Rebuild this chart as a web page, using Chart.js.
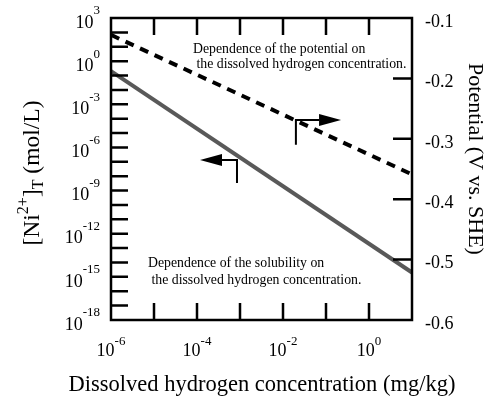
<!DOCTYPE html>
<html>
<head>
<meta charset="utf-8">
<script src="https://cdn.jsdelivr.net/npm/chart.js@4"></script>
<style>
html,body{margin:0;padding:0;background:#fff;}
#wrap{width:498px;height:398px;position:relative;}
</style>
</head>
<body>
<div id="wrap"><canvas id="c" width="498" height="398"></canvas></div>
<script>
// ---- data ----
const hydrogenConc = [1e-6, 1e1];              // mg/kg
const niSolubility = [2e-1, 2e-15];           // mol/L (left axis)
const potential = [-0.128, -0.359];           // V vs. SHE (right axis)
const xTickExps = [-6, -5, -4, -3, -2, -1, 0, 1];
const xLabelExps = [-6, -4, -2, 0];
const yTickExps = [-18,-17,-16,-15,-14,-13,-12,-11,-10,-9,-8,-7,-6,-5,-4,-3,-2,-1,0,1,2,3];
const yLabelExps = [3, 0, -3, -6, -9, -12, -15, -18];
const y2Ticks = [-0.1, -0.2, -0.3, -0.4, -0.5, -0.6];
const textPotential = ["Dependence of the potential on", " the dissolved hydrogen concentration."];
const textSolubility = ["Dependence of the solubility on", " the dissolved hydrogen concentration."];
const xTitle = "Dissolved hydrogen concentration (mg/kg)";
const y2Title = "Potential (V vs. SHE)";
// arrows (data coordinates)
const arrowLeft = {from: [Math.pow(10, -3.07), Math.pow(10, -6.87)], to: [Math.pow(10, -3.93), Math.pow(10, -6.87)], stem: Math.pow(10, -8.47)};
const arrowRight = {from: [Math.pow(10, -1.70), -0.269], to: [Math.pow(10, -0.65), -0.269], stem: -0.310};

const SERIF = '"Liberation Serif", "Times New Roman", serif';

function drawPow(ctx, exp, x, y, align, baseOff, expOff) {
  const base = '10', e = String(exp);
  ctx.font = '18px ' + SERIF;
  const wb = ctx.measureText(base).width;
  ctx.font = '13px ' + SERIF;
  const we = ctx.measureText(e).width;
  const w = wb + we;
  let x0 = x;
  if (align === 'right') x0 = x - w;
  else if (align === 'center') x0 = x - w / 2;
  ctx.textAlign = 'left';
  ctx.textBaseline = 'middle';
  ctx.font = '18px ' + SERIF;
  ctx.fillText(base, x0, y + baseOff);
  ctx.font = '13px ' + SERIF;
  ctx.fillText(e, x0 + wb, y + expOff);
}

function arrow(ctx, xs, ys, a) {
  const x1 = xs.getPixelForValue(a.from[0]), y1 = ys.getPixelForValue(a.from[1]);
  const x2 = xs.getPixelForValue(a.to[0]), y2 = ys.getPixelForValue(a.to[1]);
  const ys2 = ys.getPixelForValue(a.stem);
  ctx.strokeStyle = '#000'; ctx.fillStyle = '#000'; ctx.lineWidth = 2;
  const dir = Math.sign(x2 - x1);
  const headLen = 22, half = 6;
  ctx.beginPath();
  ctx.moveTo(x1, ys2); ctx.lineTo(x1, y1); ctx.lineTo(x2 - dir * headLen, y1);
  ctx.stroke();
  ctx.beginPath();
  ctx.moveTo(x2, y1); ctx.lineTo(x2 - dir * headLen, y1 - half); ctx.lineTo(x2 - dir * headLen, y1 + half);
  ctx.closePath(); ctx.fill();
}

const decor = {
  id: 'decor',
  afterDraw(chart) {
    const ctx = chart.ctx, a = chart.chartArea;
    const xs = chart.scales.x, ys = chart.scales.y, y2 = chart.scales.y2;
    ctx.save();
    ctx.fillStyle = '#000'; ctx.strokeStyle = '#000';
    ctx.lineWidth = 2.5;
    ctx.strokeRect(a.left, a.top, a.right - a.left, a.bottom - a.top);
    const TL = 17;
    ctx.beginPath();
    xTickExps.forEach(e => {
      const px = xs.getPixelForValue(Math.pow(10, e));
      if (px <= a.left + 1 || px >= a.right - 1) return;
      ctx.moveTo(px, a.bottom); ctx.lineTo(px, a.bottom - TL);
      ctx.moveTo(px, a.top); ctx.lineTo(px, a.top + TL);
    });
    yTickExps.forEach(e => {
      const py = ys.getPixelForValue(Math.pow(10, e));
      if (py <= a.top + 1 || py >= a.bottom - 1) return;
      ctx.moveTo(a.left, py); ctx.lineTo(a.left + TL, py);
    });
    y2Ticks.forEach(v => {
      const py = y2.getPixelForValue(v);
      if (py <= a.top + 1 || py >= a.bottom - 1) return;
      ctx.moveTo(a.right, py); ctx.lineTo(a.right - TL - 2, py);
    });
    ctx.stroke();
    // tick labels
    xLabelExps.forEach(e => drawPow(ctx, e, xs.getPixelForValue(Math.pow(10, e)), a.bottom + 25, 'center', 6, -3));
    yLabelExps.forEach(e => drawPow(ctx, e, a.left - 11, ys.getPixelForValue(Math.pow(10, e)), 'right', 5, -7));
    ctx.font = '18px ' + SERIF; ctx.textAlign = 'left'; ctx.textBaseline = 'middle';
    y2Ticks.forEach(v => ctx.fillText(v.toFixed(1), a.right + 13, y2.getPixelForValue(v) + 4));
    // x title
    ctx.font = '22.5px ' + SERIF; ctx.textAlign = 'center'; ctx.textBaseline = 'middle';
    ctx.fillText(xTitle, 262, 385);
    // right title
    ctx.save();
    ctx.font = '22px ' + SERIF;
    ctx.translate(475, 159); ctx.rotate(Math.PI / 2);
    ctx.fillText(y2Title, 0, 0);
    ctx.restore();
    // left title: [Ni2+]T (mol/L)
    ctx.save();
    ctx.translate(33, 173); ctx.rotate(-Math.PI / 2);
    const parts = [['[Ni', 23.5, 0], ['2+', 16, -9], [']', 23.5, 0], ['T', 16, 6], [' (mol/L)', 23.5, 0]];
    let tw = 0;
    parts.forEach(p => { ctx.font = p[1] + 'px ' + SERIF; tw += ctx.measureText(p[0]).width; });
    let cx = -tw / 2;
    ctx.textAlign = 'left'; ctx.textBaseline = 'middle';
    parts.forEach(p => { ctx.font = p[1] + 'px ' + SERIF; ctx.fillText(p[0], cx, p[2]); cx += ctx.measureText(p[0]).width; });
    ctx.restore();
    // annotations
    ctx.font = '13.8px ' + SERIF; ctx.textAlign = 'left'; ctx.textBaseline = 'middle';
    ctx.fillText(textPotential[0], 193, 49);
    ctx.fillText(textPotential[1], 193, 64);
    ctx.fillText(textSolubility[0], 148, 263);
    ctx.fillText(textSolubility[1], 148, 280);
    arrow(ctx, xs, ys, arrowLeft);
    arrow(ctx, xs, y2, arrowRight);
    ctx.restore();
  }
};

new Chart(document.getElementById('c'), {
  type: 'line',
  data: {
    datasets: [
      {
        label: 'Solubility',
        data: hydrogenConc.map((x, i) => ({x, y: niSolubility[i]})),
        yAxisID: 'y',
        borderColor: '#595959',
        borderWidth: 4,
        pointRadius: 0,
        tension: 0
      },
      {
        label: 'Potential',
        data: hydrogenConc.map((x, i) => ({x, y: potential[i]})),
        yAxisID: 'y2',
        borderColor: '#000',
        borderWidth: 4,
        borderDash: [9, 7],
        pointRadius: 0,
        tension: 0
      }
    ]
  },
  options: {
    responsive: false,
    animation: false,
    devicePixelRatio: 1,
    layout: {padding: {top: 18, left: 0, right: 0, bottom: 0}},
    plugins: {legend: {display: false}, tooltip: {enabled: false}},
    scales: {
      x: {
        type: 'logarithmic', position: 'bottom', min: 1e-6, max: 1e1,
        ticks: {display: false}, grid: {display: false}, border: {display: false},
        afterFit: s => { s.height = 78; }
      },
      y: {
        type: 'logarithmic', position: 'left', min: 1e-18, max: 1e3,
        ticks: {display: false}, grid: {display: false}, border: {display: false},
        afterFit: s => { s.width = 111; }
      },
      y2: {
        type: 'linear', position: 'right', min: -0.6, max: -0.1,
        ticks: {display: false}, grid: {display: false}, border: {display: false},
        afterFit: s => { s.width = 86; }
      }
    }
  },
  plugins: [decor]
});
</script>
</body>
</html>
